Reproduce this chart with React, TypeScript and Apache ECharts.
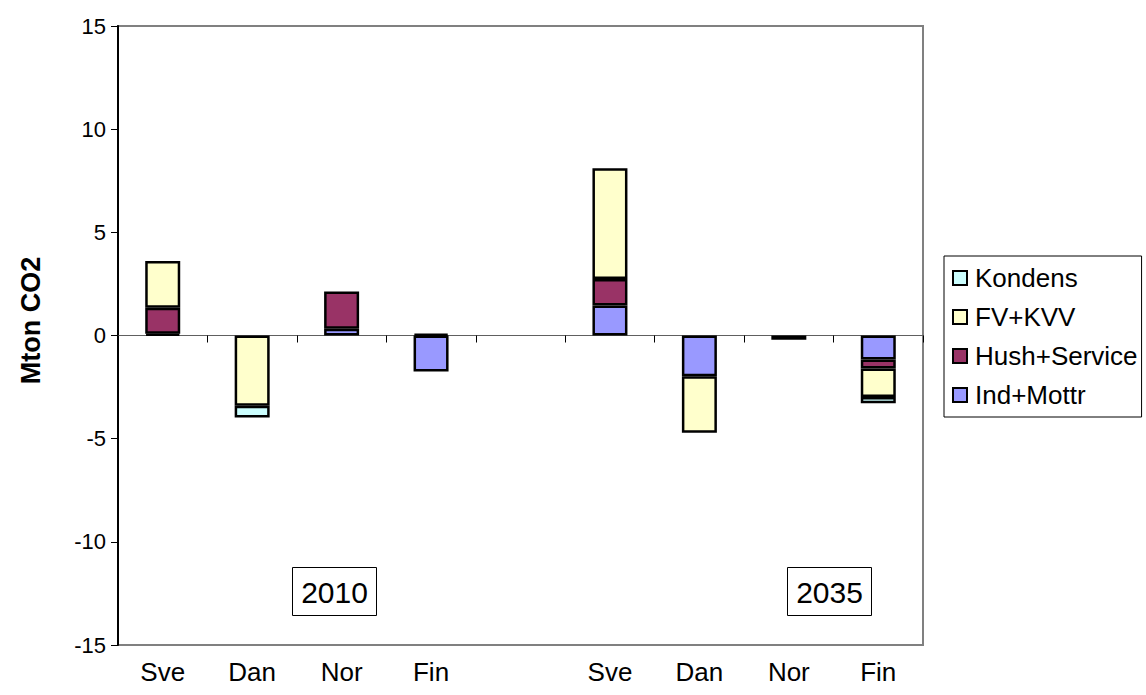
import React, { useEffect, useRef } from "react";
import * as echarts from "echarts";

const categories = ["Sve", "Dan", "Nor", "Fin", "", "Sve", "Dan", "Nor", "Fin"];
const indMottr = [0.08, null, 0.33, -1.74, null, 1.45, -1.97, null, -1.16];
const hushService = [1.27, null, 1.8, 0.08, null, 1.29, null, -0.2, -0.44];
const fvKvv = [2.26, -3.4, null, null, null, 5.37, -2.74, null, -1.38];
const kondens = [null, -0.57, null, null, null, null, null, null, -0.3];
const yTicks = { min: -15, max: 15, interval: 5 };
const yearLabels = ["2010", "2035"];

const FONT = "Arial, 'Liberation Sans', sans-serif";

export default function App() {
  const ref = useRef<HTMLDivElement>(null);
  useEffect(() => {
    if (!ref.current) return;
    const chart = echarts.init(ref.current, null, { renderer: "svg" });
    const mk = (name: string, data: (number | null)[], color: string) => ({
      name,
      type: "bar",
      stack: "total",
      data: data.map((v) => (v == null ? "-" : v)),
      barWidth: 35,
      xAxisIndex: 0,
      itemStyle: { color, borderColor: "#000", borderWidth: 2.5 },
      emphasis: { disabled: true },
    });
    const box = (label: string, x: number) => ({
      type: "group",
      left: x,
      top: 567,
      children: [
        { type: "rect", shape: { x: 0, y: 0, width: 84, height: 48 }, style: { fill: "#fff", stroke: "#000", lineWidth: 1 } },
        { type: "text", x: 42, y: 25, style: { text: label, fill: "#000", font: `30px ${FONT}`, align: "center", verticalAlign: "middle" } },
      ],
    });
    chart.setOption({
      animation: false,
      backgroundColor: "#fff",
      textStyle: { fontFamily: FONT },
      grid: { left: 118, top: 26, right: 223, bottom: 50, show: true, borderColor: "#808080", borderWidth: 2, backgroundColor: "#fff" },
      legend: {
        orient: "vertical",
        left: 944,
        top: 256,
        data: ["Kondens", "FV+KVV", "Hush+Service", "Ind+Mottr"],
        icon: "rect",
        itemWidth: 14,
        itemHeight: 14,
        itemGap: 13,
        padding: [9, 4, 9, 8],
        borderColor: "#000",
        borderWidth: 1,
        itemStyle: { borderWidth: 2 },
        textStyle: { fontSize: 26, color: "#000", fontFamily: FONT, padding: [0, 0, 0, 3] },
        selectedMode: false,
      },
      xAxis: [
        {
          type: "category",
          data: categories,
          position: "bottom",
          axisLine: { show: false, onZero: false },
          axisTick: { show: false },
          axisLabel: { fontSize: 26, color: "#000", margin: 14, fontFamily: FONT },
        },
        {
          type: "category",
          data: categories,
          position: "top",
          axisLine: { show: true, onZero: true, lineStyle: { color: "#606060", width: 1 } },
          axisTick: { show: true, inside: true, length: 7, lineStyle: { color: "#000" } },
          axisLabel: { show: false },
        },
      ],
      yAxis: {
        type: "value",
        min: yTicks.min,
        max: yTicks.max,
        interval: yTicks.interval,
        axisLine: { show: true, lineStyle: { color: "#000", width: 2 } },
        axisTick: { show: true, length: 7, lineStyle: { color: "#000" } },
        splitLine: { show: false },
        axisLabel: { fontSize: 22, color: "#000", margin: 12, fontFamily: FONT },
        name: "Mton CO2",
        nameLocation: "middle",
        nameGap: 74,
        nameTextStyle: { fontSize: 27, fontWeight: "bold", color: "#000", fontFamily: FONT, padding: [0, 0, 0, 30] },
      },
      series: [
        mk("Ind+Mottr", indMottr, "#9999FF"),
        mk("Hush+Service", hushService, "#993366"),
        mk("FV+KVV", fvKvv, "#FFFFCC"),
        mk("Kondens", kondens, "#CCFFFF"),
      ],
      graphic: [box(yearLabels[0], 292), box(yearLabels[1], 787)],
    });
    return () => chart.dispose();
  }, []);
  return <div ref={ref} style={{ position: "fixed", left: 0, top: 0, width: 1146, height: 695 }} />;
}
